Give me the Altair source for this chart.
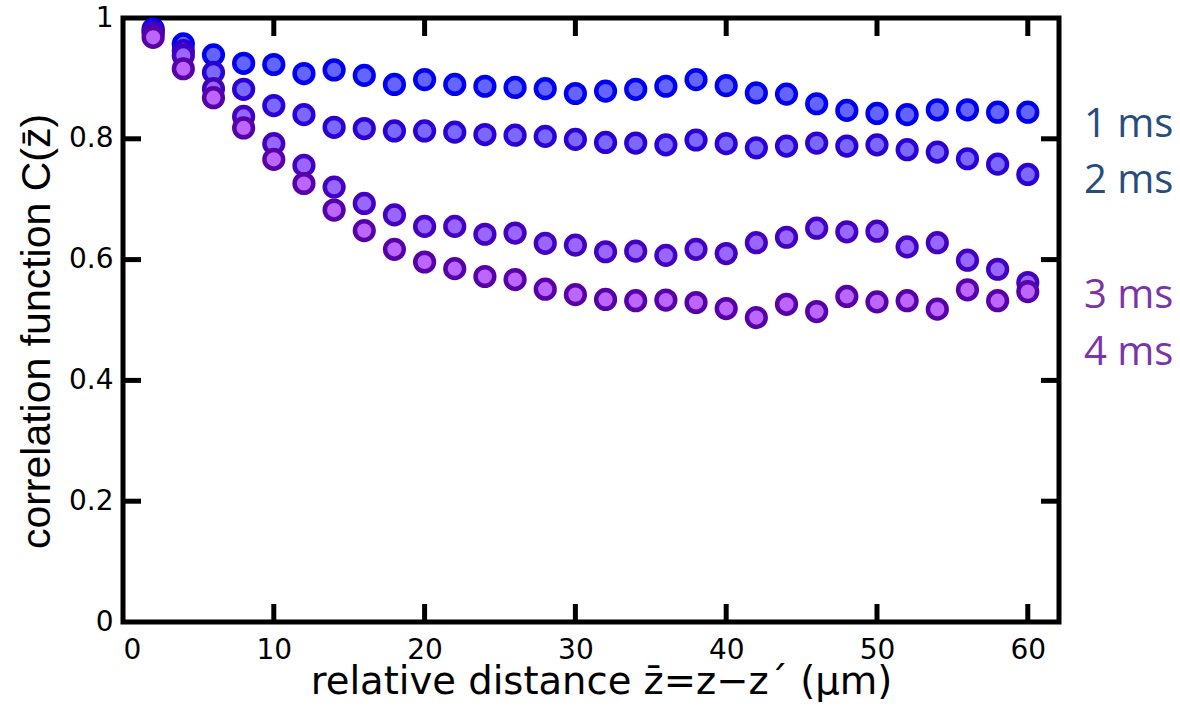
import altair as alt
import pandas as pd

# ---- data ----
x_vals = [2, 4, 6, 8, 10, 12, 14, 16, 18, 20, 22, 24, 26, 28, 30,
          32, 34, 36, 38, 40, 42, 44, 46, 48, 50, 52, 54, 56, 58, 60]

c_1ms = [0.982, 0.957, 0.939, 0.925, 0.923, 0.908, 0.914, 0.905, 0.890, 0.898,
         0.890, 0.887, 0.885, 0.883, 0.875, 0.879, 0.882, 0.887, 0.898, 0.888,
         0.876, 0.874, 0.858, 0.847, 0.842, 0.840, 0.848, 0.848, 0.844, 0.844]
c_2ms = [0.978, 0.946, 0.910, 0.882, 0.855, 0.840, 0.819, 0.817, 0.813, 0.813,
         0.811, 0.807, 0.806, 0.804, 0.799, 0.794, 0.793, 0.790, 0.798, 0.792,
         0.785, 0.788, 0.793, 0.788, 0.790, 0.782, 0.778, 0.767, 0.758, 0.741]
c_3ms = [0.975, 0.938, 0.883, 0.837, 0.792, 0.756, 0.720, 0.693, 0.674, 0.655,
         0.655, 0.642, 0.644, 0.627, 0.624, 0.613, 0.614, 0.607, 0.617, 0.610,
         0.628, 0.637, 0.652, 0.646, 0.647, 0.621, 0.628, 0.599, 0.584, 0.562]
c_4ms = [0.968, 0.916, 0.868, 0.818, 0.766, 0.726, 0.682, 0.648, 0.617, 0.596,
         0.585, 0.572, 0.567, 0.551, 0.542, 0.534, 0.532, 0.533, 0.529, 0.519,
         0.504, 0.526, 0.514, 0.539, 0.530, 0.532, 0.518, 0.550, 0.532, 0.547]

series_names = ["1 ms", "2 ms", "3 ms", "4 ms"]
x_ticks = [10, 20, 30, 40, 50, 60]
y_ticks = [0.2, 0.4, 0.6, 0.8]
y_labels = [0, 0.2, 0.4, 0.6, 0.8, 1]
x_labels = [0, 10, 20, 30, 40, 50, 60]

# ---- styles ----
fill_colors = ["#6464FF", "#7A68FF", "#9966FF", "#BC66FF"]
stroke_colors = ["#0000EE", "#2A00D4", "#4200C0", "#5800A8"]
label_colors = ["#264D7E", "#264D7E", "#7A35A6", "#7A35A6"]
label_y_px = [119, 175, 290, 347]

W, H = 936, 604
TICK = 18

rows = []
for name, vals in zip(series_names, [c_1ms, c_2ms, c_3ms, c_4ms]):
    for xv, yv in zip(x_vals, vals):
        rows.append({"x": xv, "y": yv, "series": name})
df = pd.DataFrame(rows)

x_scale = alt.Scale(domain=[0, 62.07], nice=False, zero=False)
y_scale = alt.Scale(domain=[0, 1], nice=False)

x_axis = alt.Axis(
    values=x_labels, format="d", domain=False, ticks=False, tickSize=0, grid=False,
    labelFont="DejaVu Sans", labelFontSize=28, labelColor="black",
    labelPadding=14, labelBaseline="top",
    title="relative distance z\u0304=z\u2212z\u00b4 (\u03bcm)",
    titleFont="DejaVu Sans", titleFontSize=38.5, titleFontWeight="normal",
    titleColor="black", titleX=478, titleY=71, titleAlign="center",
    titleBaseline="alphabetic",
)
y_axis = alt.Axis(
    values=y_labels, format="~g", domain=False, ticks=False, tickSize=0, grid=False,
    labelFont="DejaVu Sans", labelFontSize=28, labelColor="black",
    labelPadding=10,
    title="correlation function C(z\u0304)",
    titleFont="Liberation Sans", titleFontSize=41, titleFontWeight="normal",
    titleColor="black", titleX=-86, titleY=313, titleAngle=-90,
    titleAlign="center", titleBaseline="middle",
)

points = alt.Chart(df).mark_point(filled=True, shape="circle", size=350,
                                  strokeWidth=4.5, opacity=1).encode(
    x=alt.X("x:Q", scale=x_scale, axis=x_axis),
    y=alt.Y("y:Q", scale=y_scale, axis=y_axis),
    fill=alt.Fill("series:N", scale=alt.Scale(domain=series_names, range=fill_colors), legend=None),
    stroke=alt.Stroke("series:N", scale=alt.Scale(domain=series_names, range=stroke_colors), legend=None),
)

xt = pd.DataFrame({"x": x_ticks})
yt = pd.DataFrame({"y": y_ticks})
tick_style = dict(color="black", strokeWidth=5)

bottom_ticks = alt.Chart(xt).mark_rule(**tick_style).encode(
    x=alt.X("x:Q", scale=x_scale, axis=x_axis), y=alt.value(H), y2=alt.value(H - TICK))
top_ticks = alt.Chart(xt).mark_rule(**tick_style).encode(
    x=alt.X("x:Q", scale=x_scale, axis=x_axis), y=alt.value(0), y2=alt.value(TICK))
left_ticks = alt.Chart(yt).mark_rule(**tick_style).encode(
    y=alt.Y("y:Q", scale=y_scale, axis=y_axis), x=alt.value(0), x2=alt.value(TICK))
right_ticks = alt.Chart(yt).mark_rule(**tick_style).encode(
    y=alt.Y("y:Q", scale=y_scale, axis=y_axis), x=alt.value(W), x2=alt.value(W - TICK))

labels = []
for name, col, py in zip(series_names, label_colors, label_y_px):
    labels.append(
        alt.Chart(pd.DataFrame({"t": [name]})).mark_text(
            font="Open Sans", fontSize=40, align="left", baseline="alphabetic",
            color=col,
        ).encode(text="t:N", x=alt.value(961), y=alt.value(py))
    )

chart = alt.layer(points, bottom_ticks, top_ticks, left_ticks, right_ticks, *labels).properties(
    width=W, height=H,
    autosize=alt.AutoSizeParams(type="none"),
    padding={"left": 123, "top": 18, "right": 121, "bottom": 93},
    background="white",
).configure_view(stroke="black", strokeWidth=5)

chart.save("out.html", embed_options={"renderer": "svg", "actions": False})
